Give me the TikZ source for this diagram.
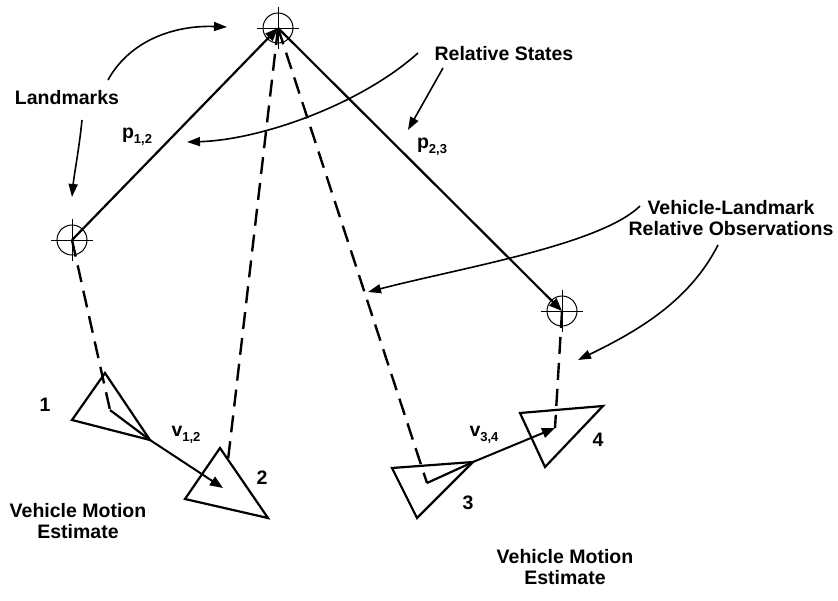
\documentclass[tikz,border=0pt]{standalone}
\usepackage{fontspec}
\setmainfont{Liberation Sans}
\usetikzlibrary{arrows.meta}
\newcommand\subtxt[1]{\raisebox{-0.5ex}{\fontsize{13}{13}\selectfont #1}}
\begin{document}
\begin{tikzpicture}[x=1pt,y=-1pt,
  lbl/.style={font=\fontsize{19.5}{21}\selectfont\bfseries, inner sep=0pt, align=center},
  lmk/.style={circle, draw, minimum size=30pt, inner sep=0pt, line width=1pt},
  cross/.style={line width=1pt},
  rel/.style={line width=2.2pt, -{Triangle[length=13pt,width=10pt]}},
  obs/.style={line width=2.4pt, dash pattern=on 17pt off 9pt},
  veh/.style={line width=2.2pt, line join=miter},
  mot/.style={line width=2pt, -{Triangle[length=13pt,width=10pt]}},
  note/.style={line width=1.6pt, -{Triangle[length=13pt,width=9pt]}}]
\useasboundingbox (0,0) rectangle (838,600);

% landmarks
\node[lmk] (L1) at (72,240) {};
\node[lmk] (L2) at (278,28) {};
\node[lmk] (L3) at (562,311) {};
\foreach \n in {L1,L2,L3}{
  \draw[cross] ([xshift=-21pt]\n.center) -- ([xshift=21pt]\n.center);
  \draw[cross] ([yshift=-21pt]\n.center) -- ([yshift=21pt]\n.center);
}

% vehicles
\coordinate (a1) at (105,373); \coordinate (b1) at (72,420); \coordinate (h1) at (150,440); \coordinate (c1) at (110,410);
\coordinate (a2) at (220,448); \coordinate (b2) at (185,499); \coordinate (h2) at (268,518); \coordinate (c2) at (223,488); \coordinate (e2) at (228,460);
\coordinate (a3) at (392,468); \coordinate (h3) at (473,462); \coordinate (b3) at (417,518); \coordinate (c3) at (427,483);
\coordinate (a4) at (520,413); \coordinate (h4) at (603,406); \coordinate (b4) at (545,467); \coordinate (c4) at (555,428);
\draw[veh] (a1) -- (b1) -- (h1) -- cycle;
\draw[veh] (a2) -- (b2) -- (h2) -- cycle;
\draw[veh] (a3) -- (h3) -- (b3) -- cycle;
\draw[veh] (a4) -- (h4) -- (b4) -- cycle;
\draw[veh] (c1) -- (h1);
\draw[veh] (c3) -- (h3);

% relative states
\draw[rel] (L1.center) -- (L2.center);
\draw[rel] (L2.center) -- (L3.center);

% observations
\draw[obs] (L1.center) -- (c1);
\draw[obs] (L2.center) -- (e2);
\draw[obs] (L2.center) -- (c3);
\draw[obs] (L3.center) -- (c4);

% motion
\draw[mot] (h1) -- (c2);
\draw[mot] (h3) -- (c4);

% labels
\node[lbl] (n1) at (45,405) {1};
\node[lbl] (n2) at (262,478) {2};
\node[lbl] (n3) at (468,503) {3};
\node[lbl] (n4) at (598,440) {4};
\node[lbl] (v12) at (186,435) {v\subtxt{1,2}};
\node[lbl] (v34) at (484,435) {v\subtxt{3,4}};
\node[lbl] (p12) at (137,137) {p\subtxt{1,2}};
\node[lbl] (p23) at (432,147) {p\subtxt{2,3}};
\node[lbl] (lm) at (67,98) {Landmarks};
\node[lbl] (rs) at (504,54) {Relative States};
\node[lbl] (vl) at (731,218) {Vehicle-Landmark\\Relative Observations};
\node[lbl] (vm1) at (78,521) {Vehicle Motion\\Estimate};
\node[lbl] (vm2) at (565,567) {Vehicle Motion\\Estimate};

% annotation arrows
\coordinate (lmA) at (108,80); \coordinate (lmAe) at (227,27);
\draw[note] (lmA) .. controls (130,40) and (175,25) .. (lmAe);
\coordinate (lmB) at (82,120); \coordinate (lmBe) at (72,197);
\draw[note] (lmB) .. controls (79,150) and (74,175) .. (lmBe);
\coordinate (rsA) at (418,53); \coordinate (rsAe) at (187,142);
\draw[note] (rsA) .. controls (360,105) and (260,140) .. (rsAe);
\coordinate (rsB) at (443,68); \coordinate (rsBe) at (408,130);
\draw[note] (rsB) -- (rsBe);
\coordinate (vlA) at (640,206); \coordinate (vlAe) at (368,292);
\draw[note] (vlA) .. controls (600,245) and (460,268) .. (vlAe);
\coordinate (vlB) at (718,245); \coordinate (vlBe) at (578,360);
\draw[note] (vlB) .. controls (690,300) and (640,330) .. (vlBe);
\end{tikzpicture}
\end{document}
